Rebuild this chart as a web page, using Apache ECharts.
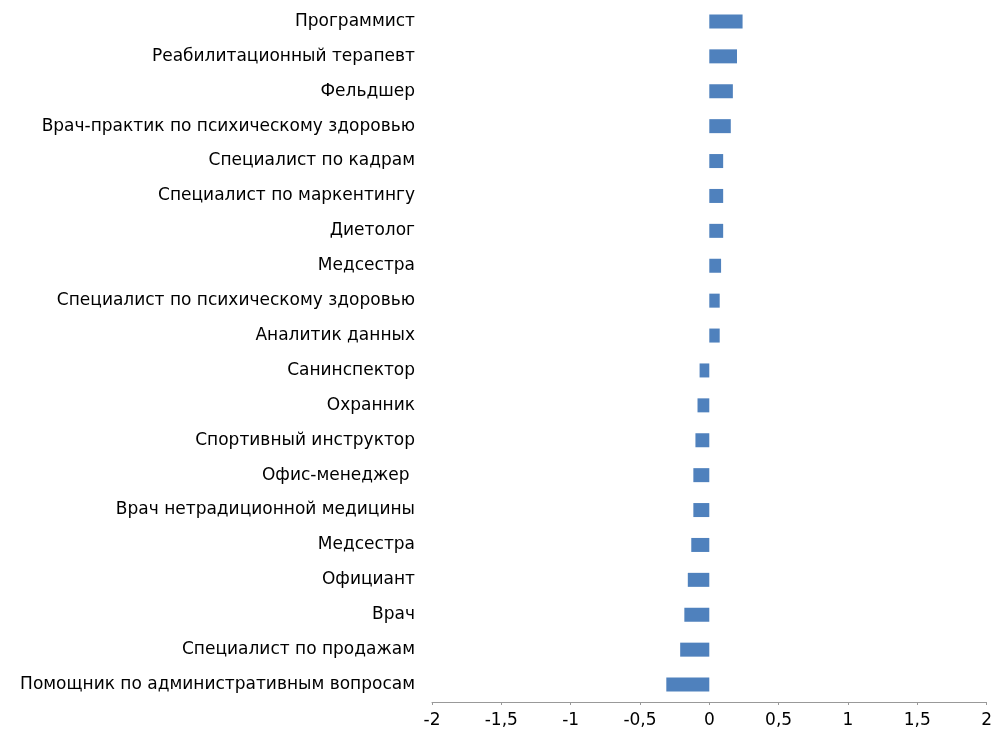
<!DOCTYPE html>
<html>
<head>
<meta charset="utf-8">
<script src="https://cdn.jsdelivr.net/npm/echarts@6/dist/echarts.min.js"></script>
<style>
  html, body { margin: 0; padding: 0; background: #fff; }
  #chart { width: 995px; height: 731px; }
</style>
</head>
<body>
<div id="chart"></div>
<script>
// Professions, listed top to bottom
const categories = [
  'Программист',
  'Реабилитационный терапевт',
  'Фельдшер',
  'Врач-практик по психическому здоровью',
  'Специалист по кадрам',
  'Специалист по маркентингу',
  'Диетолог',
  'Медсестра',
  'Специалист по психическому здоровью',
  'Аналитик данных',
  'Санинспектор',
  'Охранник',
  'Спортивный инструктор',
  'Офис-менеджер ',
  'Врач нетрадиционной медицины',
  'Медсестра',
  'Официант',
  'Врач',
  'Специалист по продажам',
  'Помощник по административным вопросам'
];

// Change values per profession
const values = [
  0.24, 0.20, 0.17, 0.155, 0.10,
  0.10, 0.10, 0.085, 0.075, 0.075,
  -0.07, -0.085, -0.10, -0.115, -0.115,
  -0.13, -0.155, -0.18, -0.21, -0.31
];

// Value axis ticks
const axisMin = -2;
const axisMax = 2;
const axisStep = 0.5;

const FONT = 'DejaVu Sans, Liberation Sans, Arial, sans-serif';

const chart = echarts.init(document.getElementById('chart'));
chart.setOption({
  animation: false,
  grid: { left: 432, right: 6, top: 4, bottom: 29, containLabel: false },
  xAxis: {
    type: 'value',
    min: axisMin,
    max: axisMax,
    interval: axisStep,
    splitLine: { show: false },
    axisLine: { show: true, lineStyle: { color: '#999999', width: 1 } },
    axisTick: { show: true, length: 3, lineStyle: { color: '#999999' } },
    axisLabel: {
      color: '#000',
      fontSize: 17,
      fontFamily: FONT,
      margin: 10,
      formatter: v => String(v).replace('.', ',')
    }
  },
  yAxis: {
    type: 'category',
    data: categories,
    inverse: true,
    position: 'left',
    axisLine: { show: false },
    axisTick: { show: false },
    axisLabel: {
      color: '#000',
      fontSize: 17,
      fontFamily: FONT,
      margin: 17
    }
  },
  series: [{
    type: 'bar',
    data: values,
    barWidth: 14,
    itemStyle: { color: '#4f81bd' }
  }]
});
</script>
</body>
</html>
